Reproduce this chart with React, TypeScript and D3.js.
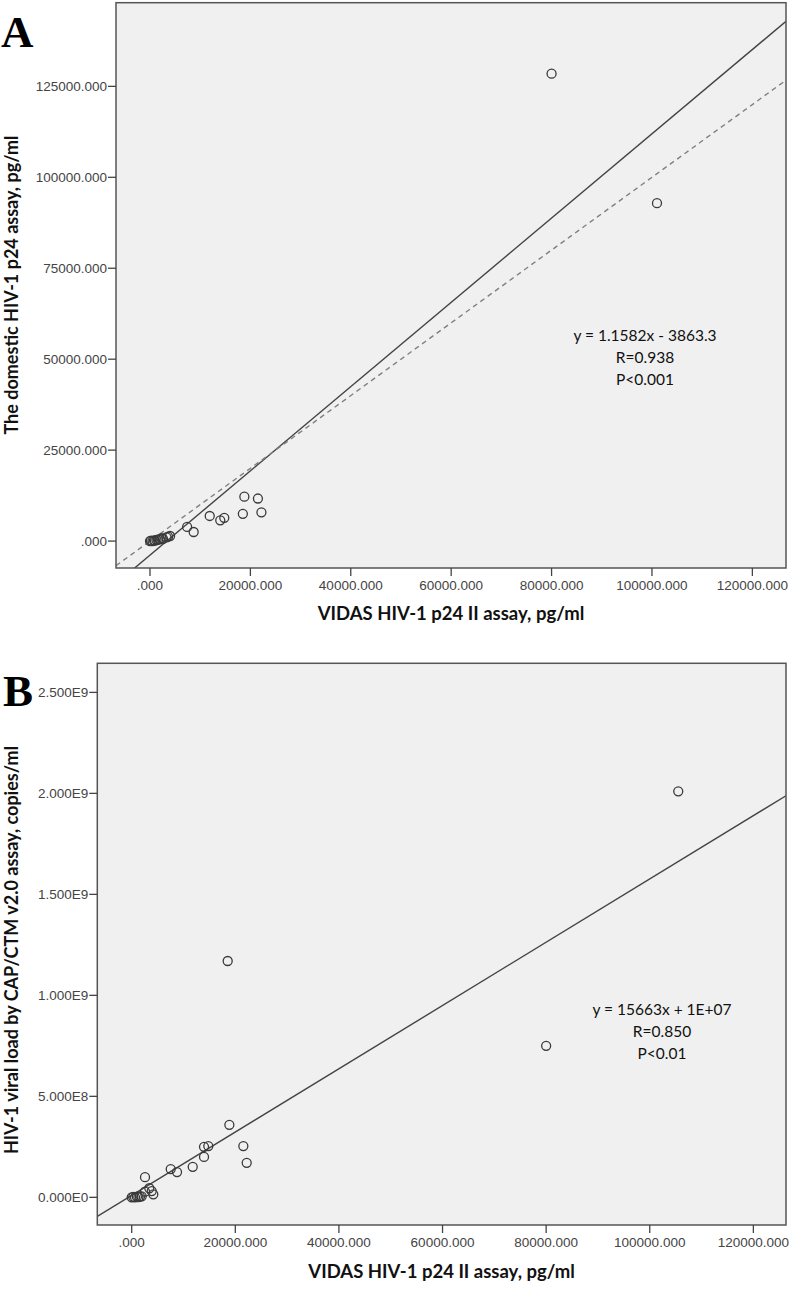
import React from "react";
import * as d3 from "d3";

// ---------- Data ----------
// Panel A: VIDAS vs domestic p24 assay (pg/ml)
const vidasA = [0, 200, 500, 800, 1000, 1300, 1600, 2000, 2300, 2600, 3300, 3600, 4000, 7400, 8700, 11900, 14000, 14800, 18500, 18800, 21500, 22200, 80000, 101000];
const domesticA = [0, 100, 0, 200, 100, 300, 400, 500, 800, 600, 1000, 1200, 1400, 3900, 2500, 6900, 5700, 6400, 7500, 12200, 11700, 7900, 128500, 92900];
const fitA = { slope: 1.1582, intercept: -3863.3 };
const identityA = { slope: 1, intercept: 0 };
const annotationA = ["y = 1.1582x - 3863.3", "R=0.938", "P<0.001"];
const xTicks = [0, 20000, 40000, 60000, 80000, 100000, 120000];
const xTickLabels = [".000", "20000.000", "40000.000", "60000.000", "80000.000", "100000.000", "120000.000"];
const yTicksA = [0, 25000, 50000, 75000, 100000, 125000];
const yTickLabelsA = [".000", "25000.000", "50000.000", "75000.000", "100000.000", "125000.000"];

// Panel B: VIDAS vs viral load (copies/ml)
const vidasB = [0, 300, 640, 1000, 1290, 1600, 1930, 2570, 2570, 3400, 3860, 4170, 7530, 8750, 11780, 13960, 13960, 14790, 18530, 18850, 21550, 22200, 80000, 105500];
const viralB = [0, 2e6, 0, 3e6, 1e6, 4e6, 5e6, 1.0e8, 2.8e7, 4.5e7, 3.1e7, 1.5e7, 1.4e8, 1.25e8, 1.51e8, 2.5e8, 2.0e8, 2.54e8, 1.17e9, 3.59e8, 2.54e8, 1.71e8, 7.5e8, 2.01e9];
const fitB = { slope: 15663, intercept: 1e7 };
const annotationB = ["y = 15663x + 1E+07", "R=0.850", "P<0.01"];
const yTicksB = [0, 5e8, 1e9, 1.5e9, 2e9, 2.5e9];
const yTickLabelsB = ["0.000E0", "5.000E8", "1.000E9", "1.500E9", "2.000E9", "2.500E9"];

const xTitle = "VIDAS HIV-1 p24 II assay, pg/ml";
const yTitleA = "The domestic HIV-1 p24 assay, pg/ml";
const yTitleB = "HIV-1 viral load by CAP/CTM v2.0 assay, copies/ml";

const TICK_FONT = "'Liberation Sans', Arial, sans-serif";
const TITLE_FONT = "Lato, 'Open Sans', sans-serif";

type Line = { slope: number; intercept: number; dashed?: boolean };

type PanelProps = {
  id: string;
  letter: string;
  letterPos: [number, number];
  xs: number[];
  ys: number[];
  xDomain: [number, number];
  yDomain: [number, number];
  left: number;
  right: number;
  top: number;
  bottom: number;
  yTicks: number[];
  yTickLabels: string[];
  lines: Line[];
  annotation: string[];
  annoX: number;
  annoY: number;
  xTitleY: number;
  yTitle: string;
  yTitleCenter: number;
};

function Panel(p: PanelProps) {
  const x = d3.scaleLinear().domain(p.xDomain).range([p.left, p.right]);
  const y = d3.scaleLinear().domain(p.yDomain).range([p.bottom, p.top]);
  const clipId = `clip-${p.id}`;
  const pts = p.xs.map((v, i) => [v, p.ys[i]] as [number, number]);
  const lineGen = d3.line<[number, number]>().x((d) => x(d[0])).y((d) => y(d[1]));
  return (
    <g>
      <defs>
        <clipPath id={clipId}>
          <rect x={p.left} y={p.top} width={p.right - p.left} height={p.bottom - p.top} />
        </clipPath>
      </defs>
      <rect x={p.left} y={p.top} width={p.right - p.left} height={p.bottom - p.top} fill="#f0f0f0" />
      <g clipPath={`url(#${clipId})`}>
        {p.lines.map((l, i) => {
          const d = lineGen([
            [p.xDomain[0], l.slope * p.xDomain[0] + l.intercept],
            [p.xDomain[1], l.slope * p.xDomain[1] + l.intercept],
          ]) as string;
          return (
            <path
              key={i}
              d={d}
              fill="none"
              stroke={l.dashed ? "#808080" : "#444"}
              strokeWidth={1.4}
              strokeDasharray={l.dashed ? "5,4" : undefined}
            />
          );
        })}
        {pts.map((d, i) => (
          <circle key={i} cx={x(d[0])} cy={y(d[1])} r={4.5} fill="none" stroke="#3a3a3a" strokeWidth={1.3} />
        ))}
      </g>
      <rect x={p.left} y={p.top} width={p.right - p.left} height={p.bottom - p.top} fill="none" stroke="#555" strokeWidth={1.5} />
      {xTicks.map((t, i) => (
        <g key={i}>
          <line x1={x(t)} x2={x(t)} y1={p.bottom} y2={p.bottom + 8} stroke="#444" strokeWidth={1.3} />
          <text x={x(t)} y={p.bottom + 22} textAnchor="middle" fontFamily={TICK_FONT} fontSize={13.5} fill="#444">
            {xTickLabels[i]}
          </text>
        </g>
      ))}
      {p.yTicks.map((t, i) => (
        <g key={i}>
          <line x1={p.left - 8} x2={p.left} y1={y(t)} y2={y(t)} stroke="#444" strokeWidth={1.3} />
          <text x={p.left - 9} y={y(t)} dy="0.35em" textAnchor="end" fontFamily={TICK_FONT} fontSize={13.5} fill="#444">
            {p.yTickLabels[i]}
          </text>
        </g>
      ))}
      <text x={(p.left + p.right) / 2} y={p.xTitleY} textAnchor="middle" fontFamily={TITLE_FONT} fontWeight="bold" fontSize={18.5} fill="#111">
        {xTitle}
      </text>
      <text
        transform={`translate(18,${p.yTitleCenter}) rotate(-90)`}
        textAnchor="middle"
        fontFamily={TITLE_FONT}
        fontWeight="bold"
        fontSize={18}
        fill="#111"
      >
        {p.yTitle}
      </text>
      {p.annotation.map((s, i) => (
        <text key={i} x={p.annoX} y={p.annoY + i * 22} textAnchor="middle" fontFamily={TITLE_FONT} fontSize={15.5} fill="#111">
          {s}
        </text>
      ))}
      <text x={p.letterPos[0]} y={p.letterPos[1]} fontFamily="'Liberation Serif', 'Times New Roman', serif" fontWeight="bold" fontSize={45} fill="#000">
        {p.letter}
      </text>
    </g>
  );
}

export default function App() {
  return (
    <svg width={789} height={1290} style={{ position: "absolute", left: 0, top: 0, background: "#fff" }}>
      <Panel
        id="a"
        letter="A"
        letterPos={[1, 46.7]}
        xs={vidasA}
        ys={domesticA}
        xDomain={[-6770, 126700]}
        yDomain={[-7400, 148000]}
        left={116}
        right={786}
        top={2.7}
        bottom={568}
        yTicks={yTicksA}
        yTickLabels={yTickLabelsA}
        lines={[{ ...fitA }, { ...identityA, dashed: true }]}
        annotation={annotationA}
        annoX={645}
        annoY={341}
        xTitleY={620}
        yTitle={yTitleA}
        yTitleCenter={285}
      />
      <Panel
        id="b"
        letter="B"
        letterPos={[3, 706]}
        xs={vidasB}
        ys={viralB}
        xDomain={[-6640, 126300]}
        yDomain={[-1.37e8, 2.644e9]}
        left={97.3}
        right={786}
        top={663.3}
        bottom={1225}
        yTicks={yTicksB}
        yTickLabels={yTickLabelsB}
        lines={[{ ...fitB }]}
        annotation={annotationB}
        annoX={662}
        annoY={1015}
        xTitleY={1278}
        yTitle={yTitleB}
        yTitleCenter={950}
      />
    </svg>
  );
}
